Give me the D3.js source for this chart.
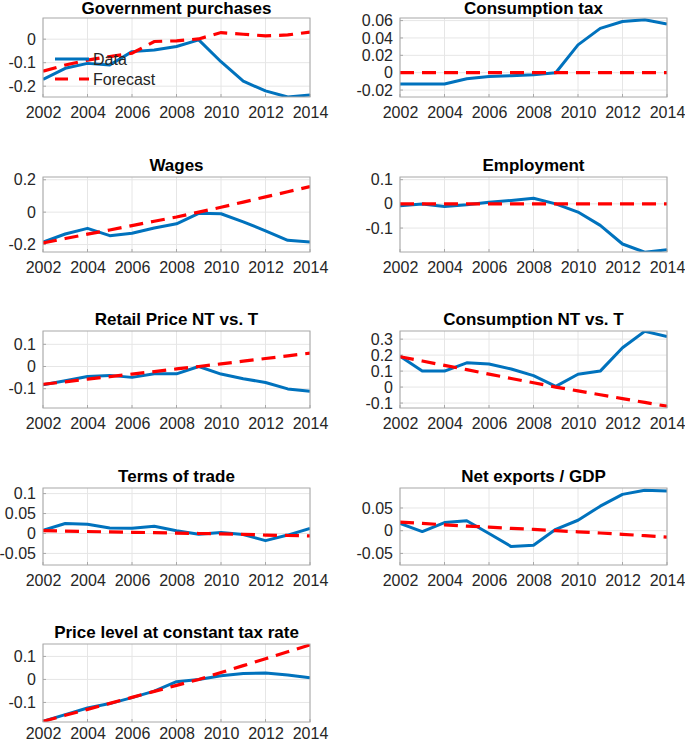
<!DOCTYPE html>
<html>
<head>
<meta charset="utf-8">
<script src="https://cdn.jsdelivr.net/npm/d3@7"></script>
<style>
body { margin: 0; background: #fff; }
svg { font-family: "Liberation Sans", Arial, Helvetica, sans-serif; }
</style>
</head>
<body>
<div id="chart"></div>
<script>
var years = [2002, 2003, 2004, 2005, 2006, 2007, 2008, 2009, 2010, 2011, 2012, 2013, 2014];
var xTicks = [2002, 2004, 2006, 2008, 2010, 2012, 2014];

var govData     = [-0.171, -0.124, -0.103, -0.110, -0.053, -0.046, -0.031, -0.003, -0.096, -0.179, -0.220, -0.246, -0.237];
var govForecast = [-0.136, -0.110, -0.089, -0.074, -0.060, -0.010, -0.007, 0.001, 0.028, 0.021, 0.014, 0.018, 0.030];
var govTicks = [-0.2, -0.1, 0];
var govDomain = [-0.246, 0.09];

var taxData     = [-0.013, -0.013, -0.013, -0.007, -0.0045, -0.0035, -0.0025, 0, 0.032, 0.051, 0.059, 0.061, 0.056];
var taxForecast = [0, 0, 0, 0, 0, 0, 0, 0, 0, 0, 0, 0, 0];
var taxTicks = [-0.02, 0, 0.02, 0.04, 0.06];
var taxDomain = [-0.028, 0.063];

var wageData     = [-0.185, -0.135, -0.100, -0.145, -0.130, -0.098, -0.072, -0.007, -0.010, -0.060, -0.115, -0.174, -0.185];
var wageForecast = [-0.190, -0.163, -0.136, -0.110, -0.083, -0.056, -0.030, 0.0, 0.030, 0.062, 0.094, 0.126, 0.158];
var wageTicks = [-0.2, 0, 0.2];
var wageDomain = [-0.246, 0.217];

var empData     = [-0.008, -0.001, -0.011, -0.004, 0.007, 0.014, 0.023, 0.0, -0.034, -0.089, -0.166, -0.200, -0.190];
var empForecast = [0, 0, 0, 0, 0, 0, 0, 0, 0, 0, 0, 0, 0];
var empTicks = [-0.1, 0, 0.1];
var empDomain = [-0.199, 0.111];

var rpData     = [-0.082, -0.064, -0.045, -0.040, -0.049, -0.033, -0.033, 0.0, -0.034, -0.055, -0.072, -0.101, -0.112];
var rpForecast = [-0.080, -0.069, -0.057, -0.046, -0.034, -0.023, -0.011, 0.0, 0.012, 0.024, 0.036, 0.048, 0.060];
var rpTicks = [-0.1, 0, 0.1];
var rpDomain = [-0.187, 0.16];

var cnData     = [0.193, 0.100, 0.100, 0.152, 0.144, 0.113, 0.072, 0.004, 0.080, 0.100, 0.246, 0.349, 0.316];
var cnForecast = [0.190, 0.163, 0.136, 0.109, 0.081, 0.054, 0.027, 0.0, -0.024, -0.048, -0.072, -0.096, -0.120];
var cnTicks = [-0.1, 0, 0.1, 0.2, 0.3];
var cnDomain = [-0.131, 0.351];

var totData     = [0.008, 0.025, 0.023, 0.014, 0.013, 0.018, 0.007, -0.002, 0.0025, -0.0025, -0.018, -0.004, 0.0125];
var totForecast = [0.007, 0.006, 0.005, 0.004, 0.003, 0.002, 0.001, 0.0, -0.001, -0.002, -0.004, -0.005, -0.006];
var totTicks = [-0.05, 0, 0.05, 0.1];
var totDomain = [-0.079, 0.114];

var nxData     = [0.016, -0.002, 0.018, 0.022, -0.006, -0.035, -0.032, 0.003, 0.023, 0.054, 0.080, 0.089, 0.0876];
var nxForecast = [0.019, 0.016, 0.013, 0.010, 0.008, 0.005, 0.003, 0.0, -0.0025, -0.005, -0.008, -0.011, -0.014];
var nxTicks = [-0.05, 0, 0.05];
var nxDomain = [-0.0755, 0.094];

var plData     = [-0.182, -0.153, -0.124, -0.105, -0.079, -0.051, -0.010, 0.0, 0.016, 0.026, 0.028, 0.019, 0.007];
var plForecast = [-0.182, -0.156, -0.130, -0.104, -0.078, -0.052, -0.026, 0.0, 0.030, 0.060, 0.090, 0.120, 0.150];
var plTicks = [-0.1, 0, 0.1];
var plDomain = [-0.185, 0.154];

var panels = [
  { title: 'Government purchases', data: govData, forecast: govForecast, ticks: govTicks, domain: govDomain, legend: true },
  { title: 'Consumption tax', data: taxData, forecast: taxForecast, ticks: taxTicks, domain: taxDomain },
  { title: 'Wages', data: wageData, forecast: wageForecast, ticks: wageTicks, domain: wageDomain },
  { title: 'Employment', data: empData, forecast: empForecast, ticks: empTicks, domain: empDomain },
  { title: 'Retail Price NT vs. T', data: rpData, forecast: rpForecast, ticks: rpTicks, domain: rpDomain },
  { title: 'Consumption NT vs. T', data: cnData, forecast: cnForecast, ticks: cnTicks, domain: cnDomain },
  { title: 'Terms of trade', data: totData, forecast: totForecast, ticks: totTicks, domain: totDomain },
  { title: 'Net exports / GDP', data: nxData, forecast: nxForecast, ticks: nxTicks, domain: nxDomain },
  { title: 'Price level at constant tax rate', data: plData, forecast: plForecast, ticks: plTicks, domain: plDomain }
];

// layout (pixels)
var colLeft = [43, 400];
var plotW = 267;
var rowTop = [18, 177, 331, 488, 644];
var rowBottom = [97, 252, 408, 565, 722];
var xPad = [10, 10, 10, 10, 6];
var titleGap = [4, 6, 6, 6, 6];

var blue = '#0072BD', red = '#FF0000';
var boxColor = '#a8a8a8', gridColor = '#e6e6e6';
var dash = '14,8';

var svg = d3.select('#chart').append('svg')
        .attr('width', 685)
        .attr('height', 744);

var fmt = function(d) { return d === 0 ? '0' : String(d); };

panels.forEach(function(p, i) {
        var col = i % 2, row = Math.floor(i / 2);
        var x0 = colLeft[col], y0 = rowTop[row];
        var h = rowBottom[row] - rowTop[row];

        var x = d3.scaleLinear().domain([2002, 2014]).range([0, plotW]);
        var y = d3.scaleLinear().domain(p.domain).range([h, 0]);

        var g = svg.append('g').attr('transform', 'translate(' + x0 + ',' + y0 + ')');

        g.append('clipPath').attr('id', 'clip' + i)
                .append('rect').attr('width', plotW).attr('height', h);

        // grid
        g.selectAll('line.vgrid').data(xTicks).enter().append('line')
                .attr('x1', function(d) { return x(d); }).attr('x2', function(d) { return x(d); })
                .attr('y1', 0).attr('y2', h)
                .attr('stroke', gridColor).attr('stroke-width', 1);
        g.selectAll('line.hgrid').data(p.ticks).enter().append('line')
                .attr('x1', 0).attr('x2', plotW)
                .attr('y1', function(d) { return y(d); }).attr('y2', function(d) { return y(d); })
                .attr('stroke', gridColor).attr('stroke-width', 1);

        // axes labels
        var xAxis = d3.axisBottom(x).tickValues(xTicks).tickFormat(d3.format('d'))
                .tickSize(0).tickPadding(xPad[row]);
        var xg = g.append('g').attr('transform', 'translate(0,' + h + ')').call(xAxis);
        var yAxis = d3.axisLeft(y).tickValues(p.ticks).tickFormat(fmt).tickSize(0).tickPadding(7);
        var yg = g.append('g').call(yAxis);
        [xg, yg].forEach(function(a) {
                a.select('.domain').remove();
                a.selectAll('text').attr('fill', '#262626').style('font-size', '16px');
                a.attr('font-family', null);
        });

        // small inward ticks
        g.selectAll('line.xt').data(xTicks).enter().append('line')
                .attr('x1', function(d) { return x(d); }).attr('x2', function(d) { return x(d); })
                .attr('y1', h).attr('y2', h - 3).attr('stroke', boxColor);
        g.selectAll('line.yt').data(p.ticks).enter().append('line')
                .attr('x1', 0).attr('x2', 3)
                .attr('y1', function(d) { return y(d); }).attr('y2', function(d) { return y(d); })
                .attr('stroke', boxColor);

        var line = d3.line()
                .x(function(d, j) { return x(years[j]); })
                .y(function(d) { return y(d); });

        var lines = g.append('g').attr('clip-path', 'url(#clip' + i + ')');
        lines.append('path').datum(p.data)
                .attr('d', line)
                .attr('fill', 'none').attr('stroke', blue)
                .attr('stroke-width', 3).attr('stroke-linejoin', 'round');
        lines.append('path').datum(p.forecast)
                .attr('d', line)
                .attr('fill', 'none').attr('stroke', red)
                .attr('stroke-width', 3.2).attr('stroke-dasharray', dash);

        // box
        g.append('rect').attr('width', plotW).attr('height', h)
                .attr('fill', 'none').attr('stroke', boxColor).attr('stroke-width', 1);

        g.append('text')
                .attr('x', plotW / 2).attr('y', -titleGap[row])
                .attr('text-anchor', 'middle')
                .style('font-size', '17px').style('font-weight', 'bold')
                .attr('fill', '#000')
                .text(p.title);

        if (p.legend) {
                var lg = g.append('g');
                [['Data', blue, null], ['Forecast', red, '13,11']].forEach(function(e, k) {
                        var ly = 41 + k * 20;
                        lg.append('line')
                                .attr('x1', 12).attr('x2', 46)
                                .attr('y1', ly).attr('y2', ly)
                                .attr('stroke', e[1]).attr('stroke-width', 3)
                                .attr('stroke-dasharray', e[2]);
                        lg.append('text')
                                .attr('x', 50).attr('y', ly + 6)
                                .style('font-size', '16px')
                                .attr('fill', '#262626')
                                .text(e[0]);
                });
        }
});
</script>
</body>
</html>
